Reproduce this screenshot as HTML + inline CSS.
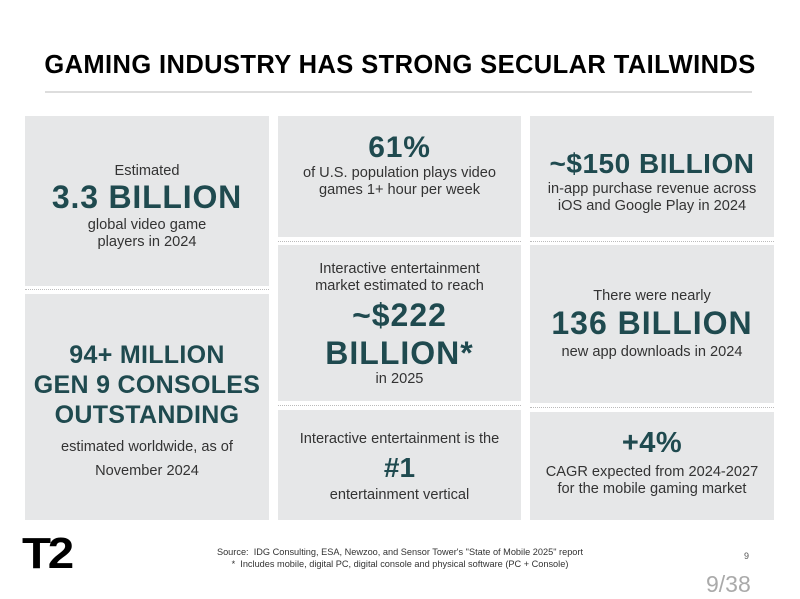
<!DOCTYPE html>
<html><head><meta charset="utf-8"><style>
body{margin:0;width:800px;height:599px;background:#fff;position:relative;overflow:hidden;font-family:"Liberation Sans",sans-serif;color:#222}
.t{position:absolute;left:0;width:800px;text-align:center;font-weight:bold;font-size:25.5px;top:51px;color:#000;letter-spacing:0.4px}
.ul{position:absolute;left:45px;width:707px;top:91px;height:2px;background:#ddd}
.b{position:absolute;background:#e6e7e8}
.l{position:absolute;text-align:center;white-space:nowrap}
.s{font-size:14.6px;color:#333}
.big{font-weight:bold;color:#1f4a4f}
.dot{position:absolute;height:0;border-top:1px dotted #bbb}
</style></head><body>
<div class="t">GAMING INDUSTRY HAS STRONG SECULAR TAILWINDS</div>
<div class="ul"></div>

<div class="b" style="left:25px;top:116px;width:244px;height:170px"></div>
<div class="b" style="left:25px;top:294px;width:244px;height:226px"></div>
<div class="dot" style="left:25px;top:289px;width:244px"></div>
<div class="b" style="left:278px;top:116px;width:243px;height:121px"></div>
<div class="b" style="left:278px;top:245px;width:243px;height:156px"></div>
<div class="b" style="left:278px;top:410px;width:243px;height:110px"></div>
<div class="dot" style="left:278px;top:241px;width:243px"></div>
<div class="dot" style="left:278px;top:405px;width:243px"></div>
<div class="b" style="left:530px;top:116px;width:244px;height:121px"></div>
<div class="b" style="left:530px;top:245px;width:244px;height:158px"></div>
<div class="b" style="left:530px;top:412px;width:244px;height:108px"></div>
<div class="dot" style="left:530px;top:241px;width:244px"></div>
<div class="dot" style="left:530px;top:407px;width:244px"></div>

<!-- col1 -->
<div class="l s" style="left:25px;width:244px;top:163px">Estimated</div>
<div class="l big" style="left:25px;width:244px;top:179px;font-size:32px;letter-spacing:0.8px">3.3 BILLION</div>
<div class="l s" style="left:25px;width:244px;top:217px;line-height:17px">global video game<br>players in 2024</div>
<div class="l big" style="left:25px;width:244px;top:340px;font-size:25px;line-height:30px;letter-spacing:0.3px">94+ MILLION<br>GEN 9 CONSOLES<br>OUTSTANDING</div>
<div class="l s" style="left:25px;width:244px;top:435px;line-height:24px">estimated worldwide, as of<br>November 2024</div>

<!-- col2 -->
<div class="l big" style="left:278px;width:243px;top:131px;font-size:30px;letter-spacing:0.8px">61%</div>
<div class="l s" style="left:278px;width:243px;top:165px;line-height:17px">of U.S. population plays video<br>games 1+ hour per week</div>
<div class="l s" style="left:278px;width:243px;top:261px;line-height:17px">Interactive entertainment<br>market estimated to reach</div>
<div class="l big" style="left:278px;width:243px;top:296px;font-size:32px;line-height:38px;letter-spacing:1px">~$222<br>BILLION*</div>
<div class="l s" style="left:278px;width:243px;top:371px">in 2025</div>
<div class="l s" style="left:278px;width:243px;top:431px">Interactive entertainment is the</div>
<div class="l big" style="left:278px;width:243px;top:452px;font-size:28px">#1</div>
<div class="l s" style="left:278px;width:243px;top:487px">entertainment vertical</div>

<!-- col3 -->
<div class="l big" style="left:530px;width:244px;top:148px;font-size:28px;letter-spacing:0.5px">~$150 BILLION</div>
<div class="l s" style="left:530px;width:244px;top:181px;line-height:17px">in-app purchase revenue across<br>iOS and Google Play in 2024</div>
<div class="l s" style="left:530px;width:244px;top:288px">There were nearly</div>
<div class="l big" style="left:530px;width:244px;top:305px;font-size:32px;letter-spacing:1px">136 BILLION</div>
<div class="l s" style="left:530px;width:244px;top:344px">new app downloads in 2024</div>
<div class="l big" style="left:530px;width:244px;top:427px;font-size:29px;letter-spacing:0.5px">+4%</div>
<div class="l s" style="left:530px;width:244px;top:464px;line-height:17px">CAGR expected from 2024-2027<br>for the mobile gaming market</div>

<div style="position:absolute;left:22px;top:530px;font-weight:bold;font-size:44px;letter-spacing:-3px;color:#000;line-height:48px;transform:scaleX(1.08);transform-origin:left">T2</div>
<div class="l" style="left:0;width:800px;top:546px;font-size:9.2px;line-height:12px;color:#333">Source: &nbsp;IDG Consulting, ESA, Newzoo, and Sensor Tower's "State of Mobile 2025" report<br>* &nbsp;Includes mobile, digital PC, digital console and physical software (PC + Console)</div>
<div style="position:absolute;left:744px;top:551px;font-size:9px;color:#555">9</div>
<div style="position:absolute;left:706px;top:571px;font-size:23px;color:#aaa">9/38</div>
</body></html>
